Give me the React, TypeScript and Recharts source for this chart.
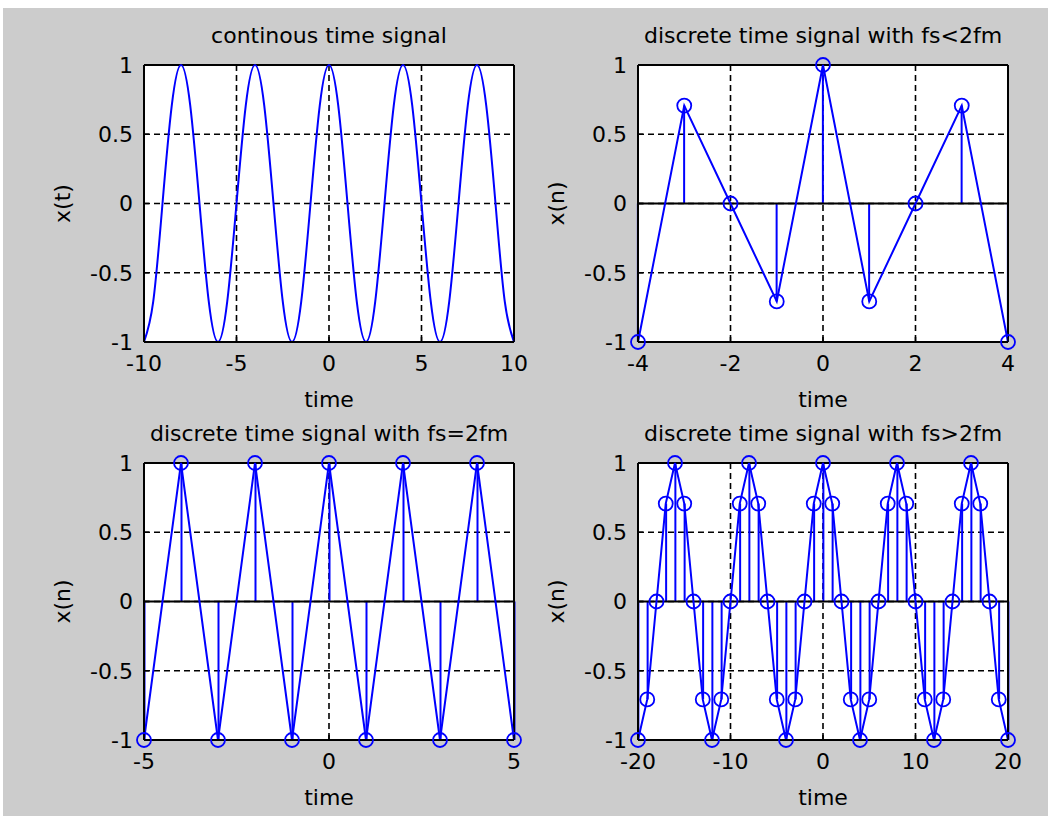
import React from 'react';
import { ComposedChart, Line, Bar, XAxis, YAxis, CartesianGrid, ReferenceLine } from 'recharts';

// continuous signal x(t), sampled every 0.5 s (drawn as a smooth curve)
const contTime = [
  -10, -9.5, -9, -8.5, -8, -7.5, -7, -6.5, -6, -5.5, -5, -4.5, -4, -3.5, -3, -2.5, -2, -1.5, -1, -0.5,
  0, 0.5, 1, 1.5, 2, 2.5, 3, 3.5, 4, 4.5, 5, 5.5, 6, 6.5, 7, 7.5, 8, 8.5, 9, 9.5, 10,
];
const contValues = [
  -1, -0.707, 0, 0.707, 1, 0.707, 0, -0.707,
  -1, -0.707, 0, 0.707, 1, 0.707, 0, -0.707,
  -1, -0.707, 0, 0.707, 1, 0.707, 0, -0.707,
  -1, -0.707, 0, 0.707, 1, 0.707, 0, -0.707,
  -1, -0.707, 0, 0.707, 1, 0.707, 0, -0.707,
  -1,
];

// fs < 2fm
const underTime = [-4, -3, -2, -1, 0, 1, 2, 3, 4];
const underValues = [-1, 0.707, 0, -0.707, 1, -0.707, 0, 0.707, -1];

// fs = 2fm
const equalTime = [-5, -4, -3, -2, -1, 0, 1, 2, 3, 4, 5];
const equalValues = [-1, 1, -1, 1, -1, 1, -1, 1, -1, 1, -1];

// fs > 2fm
const overTime = [
  -20, -19, -18, -17, -16, -15, -14, -13, -12, -11, -10, -9, -8, -7, -6, -5, -4, -3, -2, -1,
  0, 1, 2, 3, 4, 5, 6, 7, 8, 9, 10, 11, 12, 13, 14, 15, 16, 17, 18, 19, 20,
];
const overValues = [
  -1, -0.707, 0, 0.707, 1, 0.707, 0, -0.707,
  -1, -0.707, 0, 0.707, 1, 0.707, 0, -0.707,
  -1, -0.707, 0, 0.707, 1, 0.707, 0, -0.707,
  -1, -0.707, 0, 0.707, 1, 0.707, 0, -0.707,
  -1, -0.707, 0, 0.707, 1, 0.707, 0, -0.707,
  -1,
];

const yTicks = [-1, -0.5, 0, 0.5, 1];
const contTicks = [-10, -5, 0, 5, 10];
const underTicks = [-4, -2, 0, 2, 4];
const equalTicks = [-5, 0, 5];
const overTicks = [-20, -10, 0, 10, 20];

const BLUE = '#0000ff';
const FONT = '"DejaVu Sans", sans-serif';

type PanelProps = {
  left: number;
  top: number;
  title: string;
  yLabel: string;
  times: number[];
  values: number[];
  ticks: number[];
  stem?: boolean;
};

const Panel: React.FC<PanelProps> = ({ left, top, title, yLabel, times, values, ticks, stem }) => {
  const data = times.map((t, i) => ({ t, v: values[i] }));
  const lo = ticks[0];
  const hi = ticks[ticks.length - 1];
  // plot area inside the chart: x 110..480, y 40..317
  return (
    <div style={{ position: 'absolute', left: left - 110, top: top - 40, width: 500, height: 387, fontFamily: FONT }}>
      <ComposedChart width={500} height={387} data={data} margin={{ top: 40, right: 20, bottom: 0, left: 0 }}>
        <CartesianGrid fill="#ffffff" stroke="#000" strokeWidth={1.6} strokeDasharray="6 4" />
        <XAxis
          dataKey="t"
          type="number"
          domain={[lo, hi]}
          ticks={ticks}
          height={70}
          axisLine={{ stroke: '#000', strokeWidth: 2 }}
          tickLine={{ stroke: '#000', strokeWidth: 1.5 }}
          tickSize={-5}
          tickMargin={18}
          tick={{ fontSize: 22, fill: '#000' }}
          interval={0}
        />
        <YAxis
          type="number"
          domain={[-1, 1]}
          ticks={yTicks}
          width={110}
          axisLine={{ stroke: '#000', strokeWidth: 2 }}
          tickLine={{ stroke: '#000', strokeWidth: 1.5 }}
          tickSize={-5}
          tickMargin={16}
          tick={{ fontSize: 22, fill: '#000' }}
          interval={0}
        />
        <ReferenceLine y={1} stroke="#000" strokeWidth={2} />
        <ReferenceLine x={hi} stroke="#000" strokeWidth={2} />
        {stem && <ReferenceLine y={0} stroke="#000" strokeWidth={2} />}
        {stem && <Bar dataKey="v" fill={BLUE} barSize={2} isAnimationActive={false} />}
        <Line
          dataKey="v"
          type={stem ? 'linear' : 'natural'}
          stroke={BLUE}
          strokeWidth={2}
          dot={stem ? { r: 7, stroke: BLUE, strokeWidth: 1.8, fill: 'none' } : false}
          activeDot={false}
          isAnimationActive={false}
        />
      </ComposedChart>
      <svg
        width={500}
        height={387}
        style={{ position: 'absolute', left: 0, top: 0, pointerEvents: 'none', overflow: 'visible' }}
      >
        <text x={295} y={18} textAnchor="middle" fontSize={22} fill="#000" fontFamily={FONT}>
          {title}
        </text>
        <text x={295} y={382} textAnchor="middle" fontSize={22} fill="#000" fontFamily={FONT}>
          time
        </text>
        <text
          transform="translate(28,178.5) rotate(-90)"
          textAnchor="middle"
          dominantBaseline="central"
          fontSize={22}
          fill="#000"
          fontFamily={FONT}
        >
          {yLabel}
        </text>
      </svg>
    </div>
  );
};

export default function App() {
  return (
    <div style={{ position: 'absolute', left: 0, top: 0, width: 1048, height: 816, background: '#ffffff', overflow: 'hidden' }}>
      <div style={{ position: 'absolute', left: 3, top: 8, width: 1045, height: 808, background: '#cccccc' }} />
      <Panel left={144} top={65} title="continous time signal" yLabel="x(t)" times={contTime} values={contValues} ticks={contTicks} />
      <Panel left={638} top={65} title="discrete time signal with fs<2fm" yLabel="x(n)" times={underTime} values={underValues} ticks={underTicks} stem />
      <Panel left={144} top={463} title="discrete time signal with fs=2fm" yLabel="x(n)" times={equalTime} values={equalValues} ticks={equalTicks} stem />
      <Panel left={638} top={463} title="discrete time signal with fs>2fm" yLabel="x(n)" times={overTime} values={overValues} ticks={overTicks} stem />
    </div>
  );
}
